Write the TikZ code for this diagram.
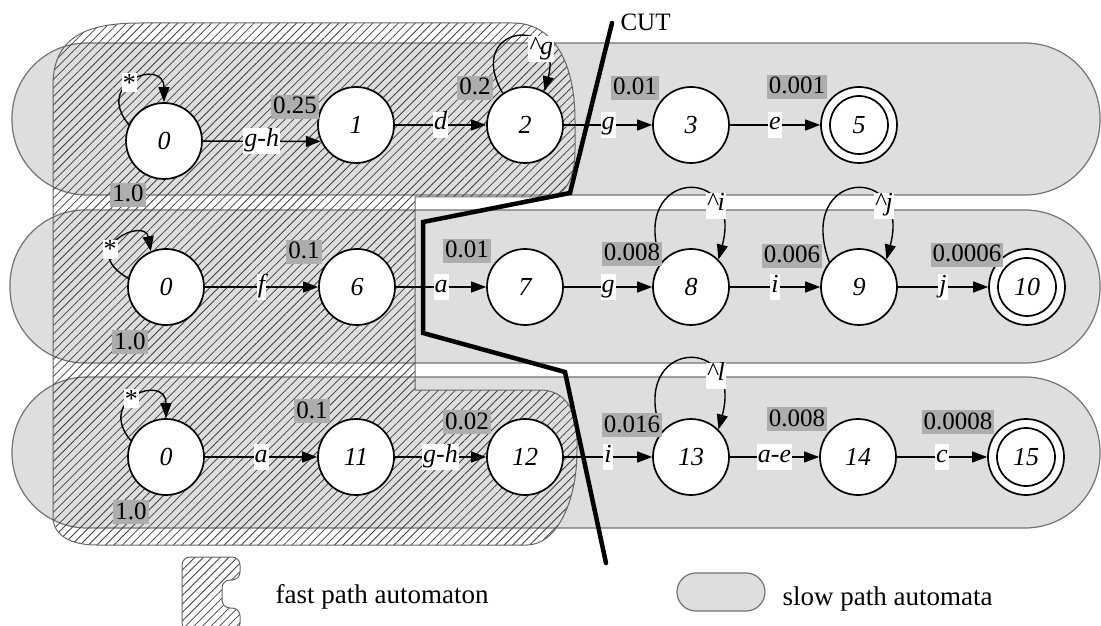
\documentclass[tikz,border=0pt]{standalone}
\usepackage{fontspec}
\setmainfont{Liberation Serif}
\usetikzlibrary{arrows.meta,patterns.meta}

\begin{document}
\begin{tikzpicture}[x=1pt,y=1pt,
  state/.style={circle,draw,line width=1.7pt,fill=white,minimum size=76pt,inner sep=0pt,font=\fontsize{26}{30}\selectfont\itshape},
  final/.style={state,path picture={\draw[line width=1.7pt] (path picture bounding box.center) circle[radius=29pt];}},
  edge/.style={line width=1.4pt,-{Triangle[length=15pt,width=11pt]}},
  sym/.style={fill=white,inner xsep=1pt,inner ysep=2pt,text height=16pt,text depth=6pt,font=\fontsize{26}{30}\selectfont\itshape},
  anylbl/.style={fill=white,inner sep=1pt,font=\fontsize{26}{30}\selectfont},
  prob/.style={fill=black!32,inner sep=2pt,text height=17pt,text depth=3pt,font=\fontsize{25}{30}\selectfont},
  slow/.style={draw=black!55,line width=1.2pt,fill=black!13},
  fast/.style={draw=black!60,line width=1pt,pattern={Lines[angle=45,distance=6pt,line width=0.8pt]},pattern color=black!75},
  legend/.style={font=\fontsize{27}{32}\selectfont}]
\useasboundingbox (0,0) rectangle (1101,625);

\draw[slow,rounded corners=75pt] (12,430) rectangle (1100,582);
\draw[slow,rounded corners=75pt] (10,262) rectangle (1100,415);
\draw[slow,rounded corners=75pt] (12,97) rectangle (1100,248);

\draw[fast] (53,200) -- (53,540) .. controls (53,590) and (90,602) .. (140,602) -- (513,602)
  .. controls (555,602) and (575,560) .. (575,505) -- (575,475) .. controls (575,445) and (565,428) .. (545,428)
  -- (415,428) -- (415,235) -- (540,235) .. controls (565,235) and (577,215) .. (577,185) -- (577,175)
  .. controls (577,120) and (555,80) .. (527,80) -- (97,80) .. controls (70,80) and (53,90) .. (53,108) -- cycle;

\draw[line width=4.5pt,line cap=round] (612,602) -- (570,432) -- (423,403) -- (423,292) -- (565,253) -- (606,62);
\node[anchor=west,font=\fontsize{25}{28}\selectfont] (cutlbl) at (617,603) {CUT};

\node[state] (s0a) at (164,484) {0};
\node[state] (s1) at (356,500) {1};
\node[state] (s2) at (525,500) {2};
\node[state] (s3) at (691,500) {3};
\node[final] (s5) at (859,500) {5};
\node[state] (s0b) at (166,338) {0};
\node[state] (s6) at (357,338) {6};
\node[state] (s7) at (525,338) {7};
\node[state] (s8) at (691,338) {8};
\node[state] (s9) at (859,338) {9};
\node[final] (s10) at (1027,338) {10};
\node[state] (s0c) at (166,168) {0};
\node[state] (s11) at (356,168) {11};
\node[state] (s12) at (525,168) {12};
\node[state] (s13) at (691,168) {13};
\node[state] (s14) at (858,168) {14};
\node[final] (s15) at (1026,168) {15};

\draw[edge] (s0a) -- node[sym]{g-h} (s1.205);
\draw[edge] (s1) -- node[sym]{d} (s2);
\draw[edge] (s2) -- node[sym]{g} (s3);
\draw[edge] (s3) -- node[sym]{e} (s5);
\draw[edge] (s0b) -- node[sym]{f} (s6);
\draw[edge] (s6) -- node[sym]{a} (s7);
\draw[edge] (s7) -- node[sym]{g} (s8);
\draw[edge] (s8) -- node[sym]{i} (s9);
\draw[edge] (s9) -- node[sym]{j} (s10);
\draw[edge] (s0c) -- node[sym]{a} (s11);
\draw[edge] (s11) -- node[sym]{g-h} (s12);
\draw[edge] (s12) -- node[sym]{i} (s13);
\draw[edge] (s13) -- node[sym]{a-e} (s14);
\draw[edge] (s14) -- node[sym]{c} (s15);

\draw[edge] (s0a.155) .. controls +(130:55) and +(90:45) .. (s0a.north) node[anylbl,pos=0.45]{*};
\draw[edge] (s0b.167) .. controls +(150:60) and +(100:35) .. (s0b.113) node[anylbl,pos=0.35]{*};
\draw[edge] (s0c.155) .. controls +(130:55) and +(90:45) .. (s0c.north) node[anylbl,pos=0.45]{*};
\draw[edge] (s2.125) .. controls +(120:80) and +(75:80) .. (s2.60) node[sym,pos=0.75]{\textasciicircum g};
\draw[edge] (s8.140) .. controls +(110:100) and +(75:100) .. (s8.45) node[sym,pos=0.75]{\textasciicircum i};
\draw[edge] (s9.140) .. controls +(110:100) and +(75:100) .. (s9.45) node[sym,pos=0.75]{\textasciicircum j};
\draw[edge] (s13.140) .. controls +(110:100) and +(75:100) .. (s13.45) node[sym,pos=0.75]{\textasciicircum l};

\node[prob] (w1) at (295,518) {0.25};
\node[prob] (w2) at (475,537) {0.2};
\node[prob] (w3) at (635,537) {0.01};
\node[prob] (w5) at (797,538) {0.001};
\node[prob] (w0a) at (128,430) {1.0};
\node[prob] (w6) at (304,373) {0.1};
\node[prob] (w7) at (467,374) {0.01};
\node[prob] (w8) at (632,371) {0.008};
\node[prob] (w9) at (792,369) {0.006};
\node[prob] (w10) at (967,370) {0.0006};
\node[prob] (w0b) at (130,283) {1.0};
\node[prob] (w11) at (312,214) {0.1};
\node[prob] (w12) at (467,203) {0.02};
\node[prob] (w13) at (632,200) {0.016};
\node[prob] (w14) at (797,206) {0.008};
\node[prob] (w15) at (958,203) {0.0008};
\node[prob] (w0c) at (131,113) {1.0};

\draw[fast,rounded corners=8pt] (182,-6) -- (182,68) -- (240,68) -- (240,45) -- (222,45) -- (222,17) -- (240,17) -- (240,-6) -- cycle;
\node[legend,anchor=west] (fastlbl) at (272,28) {fast path automaton};
\draw[slow,rounded corners=19pt] (677,14) rectangle (765,52);
\node[legend,anchor=west] (slowlbl) at (779,26) {slow path automata};
\end{tikzpicture}
\end{document}
